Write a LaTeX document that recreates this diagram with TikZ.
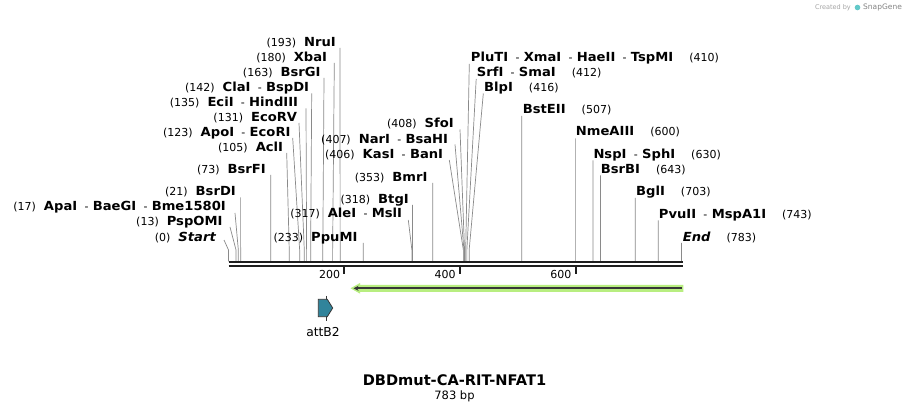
\documentclass[tikz,border=0pt]{standalone}
\usepackage{fontspec}
\setmainfont{DejaVu Sans}
\newfontfamily\namefont{DejaVu Sans}[FakeStretch=1.05]
\usetikzlibrary{arrows.meta,calc}
\definecolor{leadgray}{RGB}{138,138,138}
\definecolor{bbcol}{RGB}{30,30,30}
\definecolor{glow}{RGB}{184,238,128}
\definecolor{featteal}{RGB}{49,132,155}
\definecolor{darkline}{RGB}{55,55,55}
\definecolor{credgray}{RGB}{165,165,165}
\newcommand{\rnum}[1]{{\fontsize{11}{13}\selectfont #1}}
\newcommand{\rname}[1]{{\namefont\fontsize{12.5}{14}\selectfont\bfseries #1}}
\newcommand{\rsep}{\hspace{7.3pt}\rnum{-}\hspace{4.3pt}}
\newcommand{\lgap}{\hspace{8pt}}
\newcommand{\rgap}{\hspace{16pt}}
% leader: name, top x, top y, bp
\newcommand{\leadline}[4]{%
  \coordinate (t#1) at (#2,#3);
  \coordinate (s#1) at ({228.5+0.5785*#4},250);
  \draw[leader] (t#1) -- (s#1) -- ++(0,11.5);}
\begin{document}
\begin{tikzpicture}[x=1pt,y=-1pt,
  lbl/.style={inner sep=0pt, text=black},
  leader/.style={draw=leadgray, line width=0.7pt},
  backbone/.style={draw=bbcol, line width=2.4pt},
  tickmark/.style={draw=bbcol, line width=2pt},
  ticklbl/.style={inner sep=0pt, anchor=base east, font=\fontsize{11}{13}\selectfont}]
\useasboundingbox (0,0) rectangle (912,411);
\fill[white] (0,0) rectangle (912,411);

% ---------- leaders ----------
\leadline{Start}{224}{240}{0}
\leadline{PspOMI}{230}{227}{13}
\leadline{ApaI}{235}{213}{17}
\leadline{BsrDI}{240.6}{197.5}{21}
\leadline{BsrFI}{270.7}{175}{73}
\leadline{AclI}{286.7}{153}{105}
\leadline{ApoI}{292.7}{138}{123}
\leadline{EcoRV}{299}{123}{131}
\leadline{EciI}{306}{108.5}{135}
\leadline{ClaI}{311.7}{93.5}{142}
\leadline{BsrGI}{324}{78}{163}
\leadline{XbaI}{334.3}{63}{180}
\leadline{NruI}{340}{48}{193}
\leadline{PpuMI}{363.3}{243}{233}
\leadline{AleI}{408.3}{220}{317}
\leadline{BtgI}{412.5}{205}{318}
\leadline{BmrI}{432.7}{183}{353}
\leadline{KasI}{449.3}{160}{406}
\leadline{NarI}{455}{144.5}{407}
\leadline{SfoI}{460}{129.5}{408}
\leadline{PluTI}{469.3}{64}{410}
\leadline{SrfI}{476.2}{79}{412}
\leadline{BlpI}{483.3}{93.5}{416}
\leadline{BstEII}{521.8}{116}{507}
\leadline{NmeAIII}{575.6}{138.5}{600}
\leadline{NspI}{593}{160.5}{630}
\leadline{BsrBI}{600.5}{175.5}{643}
\leadline{BglI}{635.2}{198}{703}
\leadline{PvuII}{658.3}{220.5}{743}
\leadline{End}{681.5}{243}{783}

% ---------- left labels ----------
\node[lbl, anchor=base east] (lNruI)   at (336,46.5)   {\rnum{(193)}\lgap\rname{NruI}};
\node[lbl, anchor=base east] (lXbaI)   at (327.3,61.5) {\rnum{(180)}\lgap\rname{XbaI}};
\node[lbl, anchor=base east] (lBsrGI)  at (320.7,76.5) {\rnum{(163)}\lgap\rname{BsrGI}};
\node[lbl, anchor=base east] (lClaI)   at (309.3,91.5) {\rnum{(142)}\lgap\rname{ClaI}\rsep\rname{BspDI}};
\node[lbl, anchor=base east] (lEciI)   at (298.3,106.5) {\rnum{(135)}\lgap\rname{EciI}\rsep\rname{HindIII}};
\node[lbl, anchor=base east] (lEcoRV)  at (297.3,121.5) {\rnum{(131)}\lgap\rname{EcoRV}};
\node[lbl, anchor=base east] (lApoI)   at (290.7,136.5) {\rnum{(123)}\lgap\rname{ApoI}\rsep\rname{EcoRI}};
\node[lbl, anchor=base east] (lAclI)   at (283.3,151.5) {\rnum{(105)}\lgap\rname{AclI}};
\node[lbl, anchor=base east] (lBsrFI)  at (266,173.5)  {\rnum{(73)}\lgap\rname{BsrFI}};
\node[lbl, anchor=base east] (lBsrDI)  at (236,195.5)  {\rnum{(21)}\lgap\rname{BsrDI}};
\node[lbl, anchor=base east] (lApaI)   at (226,210.5)  {\rnum{(17)}\lgap\rname{ApaI}\rsep\rname{BaeGI}\rsep\rname{Bme1580I}};
\node[lbl, anchor=base east] (lPspOMI) at (222.7,225.5) {\rnum{(13)}\lgap\rname{PspOMI}};
\node[lbl, anchor=base east] (lStart)  at (216,241.5)  {\rnum{(0)}\lgap\rname{\itshape Start}};

% ---------- middle labels ----------
\node[lbl, anchor=base east] (lSfoI)  at (454,127.5)   {\rnum{(408)}\lgap\rname{SfoI}};
\node[lbl, anchor=base east] (lNarI)  at (448.3,143.5) {\rnum{(407)}\lgap\rname{NarI}\rsep\rname{BsaHI}};
\node[lbl, anchor=base east] (lKasI)  at (443.3,158.5) {\rnum{(406)}\lgap\rname{KasI}\rsep\rname{BanI}};
\node[lbl, anchor=base east] (lBmrI)  at (427.7,181.5) {\rnum{(353)}\lgap\rname{BmrI}};
\node[lbl, anchor=base east] (lBtgI)  at (409,203.5)   {\rnum{(318)}\lgap\rname{BtgI}};
\node[lbl, anchor=base east] (lAleI)  at (402.3,218)   {\rnum{(317)}\lgap\rname{AleI}\rsep\rname{MslI}};
\node[lbl, anchor=base east] (lPpuMI) at (357.7,241.5) {\rnum{(233)}\lgap\rname{PpuMI}};

% ---------- right labels ----------
\node[lbl, anchor=base west] (lPluTI)   at (470.7,61.5)  {\rname{PluTI}\rsep\rname{XmaI}\rsep\rname{HaeII}\rsep\rname{TspMI}\rgap\rnum{(410)}};
\node[lbl, anchor=base west] (lSrfI)    at (476.7,76.5)  {\rname{SrfI}\rsep\rname{SmaI}\rgap\rnum{(412)}};
\node[lbl, anchor=base west] (lBlpI)    at (484,91.5)    {\rname{BlpI}\rgap\rnum{(416)}};
\node[lbl, anchor=base west] (lBstEII)  at (522.7,113.5) {\rname{BstEII}\rgap\rnum{(507)}};
\node[lbl, anchor=base west] (lNmeAIII) at (575.7,135.5) {\rname{NmeAIII}\rgap\rnum{(600)}};
\node[lbl, anchor=base west] (lNspI)    at (593.3,158.5) {\rname{NspI}\rsep\rname{SphI}\rgap\rnum{(630)}};
\node[lbl, anchor=base west] (lBsrBI)   at (600.7,173.5) {\rname{BsrBI}\rgap\rnum{(643)}};
\node[lbl, anchor=base west] (lBglI)    at (636,195.5)   {\rname{BglI}\rgap\rnum{(703)}};
\node[lbl, anchor=base west] (lPvuII)   at (658.7,218.5) {\rname{PvuII}\rsep\rname{MspA1I}\rgap\rnum{(743)}};
\node[lbl, anchor=base west] (lEnd)     at (682.7,241.5) {\rname{\itshape End}\rgap\rnum{(783)}};

% ---------- backbone ----------
\coordinate (bbL1) at (228.5,262.2);
\coordinate (bbR1) at (682.7,262.2);
\coordinate (bbL2) at (228.5,266.2);
\coordinate (bbR2) at (682.7,266.2);
\draw[backbone] (bbL1) -- (bbR1);
\draw[backbone] (bbL2) -- (bbR2);

% ticks
\foreach \bp/\nm in {200/t200,400/t400,600/t600}{
  \coordinate (\nm) at ({228.5+0.5785*\bp},266);
  \draw[tickmark] (\nm) -- ++(0,8.5);
  \node[ticklbl] (\nm lbl) at ($(\nm)+(-4,12.3)$) {\bp};
}

% ---------- green arrow ----------
\coordinate (gL) at (351.7,288.3);
\coordinate (gR) at (683.3,288.3);
\fill[glow] (683.3,284.8) -- (360,284.8) -- (360,283) -- (350.5,288.3) -- (360,293.6) -- (360,291.8) -- (683.3,291.8) -- cycle;
\draw[darkline, line width=1.6pt, -{Stealth[length=5pt,width=5pt]}] (681.5,288.3) -- (353.5,288.3);

% ---------- attB2 feature ----------
\coordinate (aTop) at (326.5,296);
\coordinate (aBot) at (326.5,320.7);
\draw[darkline, line width=0.8pt] (aTop) -- (aBot);
\draw[darkline, line width=0.8pt, fill=featteal] (318.3,299.3) -- (327.3,299.3) -- (332.7,308) -- (327.3,316.7) -- (318.3,316.7) -- cycle;
\node[lbl, anchor=base, font=\fontsize{12.3}{14}\selectfont] (attB2) at (323,336) {attB2};

% ---------- title ----------
\node[lbl, anchor=base, font=\fontsize{14.6}{17}\selectfont\bfseries] (title) at (454.5,385.5) {DBDmut-CA-RIT-NFAT1};
\node[lbl, anchor=base, font=\fontsize{11.5}{13}\selectfont] (bp) at (454.5,399) {783 bp};

% ---------- credit ----------
\node[lbl, anchor=base east, text=credgray, font=\fontsize{6.5}{8}\selectfont] (cred) at (851,10) {Created by};
\fill[credgray!60!cyan] (857.5,7.5) circle (2.8pt);
\node[lbl, anchor=base west, text=credgray!80!black, font=\fontsize{7.5}{9}\selectfont] (sg) at (863,10) {SnapGene};
\end{tikzpicture}
\end{document}
